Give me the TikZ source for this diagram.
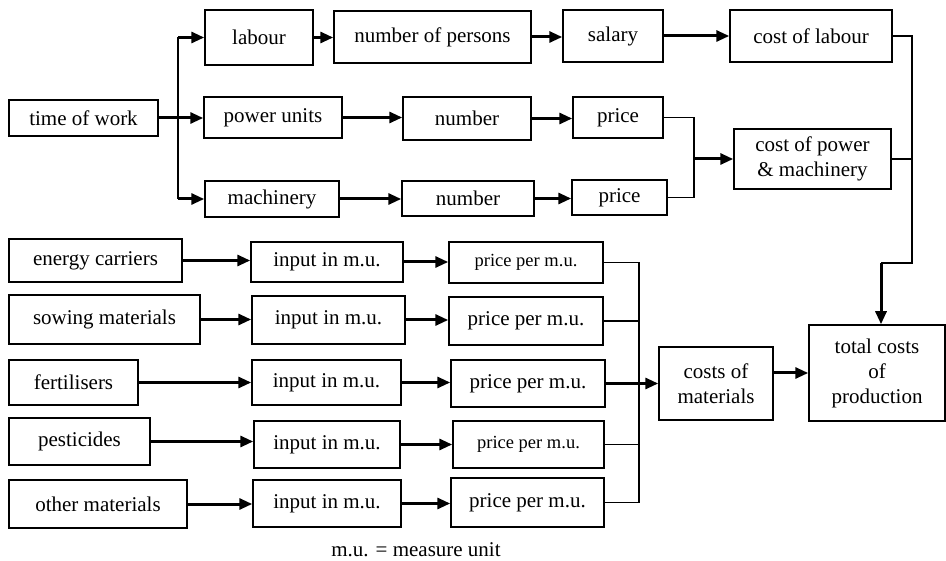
\documentclass[tikz,border=0pt]{standalone}
\usepackage{fontspec}
\setmainfont{Liberation Serif}
\usetikzlibrary{arrows.meta}

\begin{document}
\begin{tikzpicture}[
        % Environment Config
        x=1pt, y=-1pt,
        font=\fontsize{21}{25}\selectfont,
        Box/.style 2 args={% Style for the boxes
          draw,
          line width=1.5pt,
          align=center,
          inner sep=0pt,
          minimum width=#1,
          minimum height=#2
        },
        Small/.style={% Style for the smaller price text
          font=\fontsize{18.5}{22}\selectfont
        },
        MyArrow/.style={% Style for the thick arrows
          -{Triangle[length=13pt,width=11pt]},
          line width=3pt
        },
        Wire/.style={% Style for the thin joining lines
          line width=1.5pt
        }
      ]

      \def\Link(#1)(#2){% Thick arrow from one box to the next one
        \draw[MyArrow] (#1.east) -- (#1.east -| #2.west);
      }

      % Fix the margins
      \useasboundingbox (0,0) rectangle (946,561);

      %===Time of work, labour, power units, machinery===
      \node[Box={149pt}{36pt}] (Work) at (83.5,118) {time of work};
      \node[Box={108pt}{55pt}] (Labour) at (259,37.5) {labour};
      \node[Box={197pt}{52pt}] (Persons) at (432.5,37) {number of persons};
      \node[Box={100pt}{52pt}] (Salary) at (613,36) {salary};
      \node[Box={162pt}{52pt}] (CostLabour) at (811,36) {cost of labour};
      \node[Box={138pt}{41pt}] (Power) at (273,117.5) {power units};
      \node[Box={128pt}{43pt}] (PowerNum) at (467,118.5) {number};
      \node[Box={90pt}{41pt}] (PowerPrice) at (618,117.5) {price};
      \node[Box={134pt}{36pt}] (Mach) at (272,199) {machinery};
      \node[Box={132pt}{35pt}] (MachNum) at (468,198.5) {number};
      \node[Box={95pt}{35pt}] (MachPrice) at (619.5,197.5) {price};
      \node[Box={157pt}{60pt}] (CostPower) at (812.5,159) {cost of power\\\& machinery};

      %===Materials===
      \node[Box={173pt}{43pt}] (Energy) at (95.5,260.5) {energy carriers};
      \node[Box={152pt}{40pt}] (Energy-In) at (327,262) {input in m.u.};
      \node[Box={154pt}{41pt},Small] (Energy-Price) at (526,262.5) {price per m.u.};
      \node[Box={191pt}{49pt}] (Sowing) at (104.5,319.5) {sowing materials};
      \node[Box={153pt}{48pt}] (Sowing-In) at (328.5,320) {input in m.u.};
      \node[Box={154pt}{48pt}] (Sowing-Price) at (526,321) {price per m.u.};
      \node[Box={129pt}{45pt}] (Fert) at (73.5,382.5) {fertilisers};
      \node[Box={149pt}{45pt}] (Fert-In) at (326.5,382.5) {input in m.u.};
      \node[Box={154pt}{47pt}] (Fert-Price) at (528,383.5) {price per m.u.};
      \node[Box={141pt}{47pt}] (Pest) at (79.5,441.5) {pesticides};
      \node[Box={146pt}{47pt}] (Pest-In) at (327,444.5) {input in m.u.};
      \node[Box={151pt}{47pt},Small] (Pest-Price) at (528.5,444.5) {price per m.u.};
      \node[Box={178pt}{48pt}] (Other) at (98,504) {other materials};
      \node[Box={148pt}{47pt}] (Other-In) at (327,503.5) {input in m.u.};
      \node[Box={153pt}{49pt}] (Other-Price) at (527.5,502.5) {price per m.u.};

      \node[Box={114pt}{73pt}] (CostMat) at (716,383.5) {costs of\\materials};
      \node[Box={136pt}{96pt}] (Total) at (877,373) {total costs\\of\\production};

      \node (Note) at (416,550) {m.u. = measure unit};

      % Some joining points
      \coordinate (Split) at (178,118);
      \coordinate (PJoin) at (694,159);
      \coordinate (RBus) at (912,263);
      \coordinate (TJoin) at (881,263);
      \coordinate (MBus) at (639,262.5);

      %===Upper part===
      \draw[Wire] (Split |- Labour) -- (Split |- Mach);
      \Link(Work)(Power)
      \draw[MyArrow] (Split |- Labour) -- (Labour);
      \draw[MyArrow] (Split |- Mach) -- (Mach);
      \Link(Labour)(Persons)
      \Link(Persons)(Salary)
      \Link(Salary)(CostLabour)
      \Link(Power)(PowerNum)
      \Link(PowerNum)(PowerPrice)
      \Link(Mach)(MachNum)
      \Link(MachNum)(MachPrice)
      \draw[Wire] (PowerPrice.east) -| (PJoin) |- (MachPrice.east);
      \draw[MyArrow] (PJoin) -- (CostPower);

      %===Right bus to the total===
      \draw[Wire] (CostLabour.east) -| (RBus) -- (TJoin);
      \draw[Wire] (CostPower.east) -- (CostPower.east -| RBus);
      \draw[MyArrow] (TJoin) -- (TJoin |- Total.north);

      %===Material rows===
      \foreach \Row in {Energy,Sowing,Fert,Pest,Other}{
        \Link(\Row)(\Row-In)
        \Link(\Row-In)(\Row-Price)
        \draw[Wire] (\Row-Price.east) -- (\Row-Price.east -| MBus);
      }
      \draw[Wire] (MBus) -- (MBus |- Other-Price.east);
      \draw[MyArrow] (Fert-Price.east) -- (Fert-Price.east -| CostMat.west);
      \draw[MyArrow] (CostMat.east |- Total.west) -- (Total.west);

\end{tikzpicture}
\end{document}
